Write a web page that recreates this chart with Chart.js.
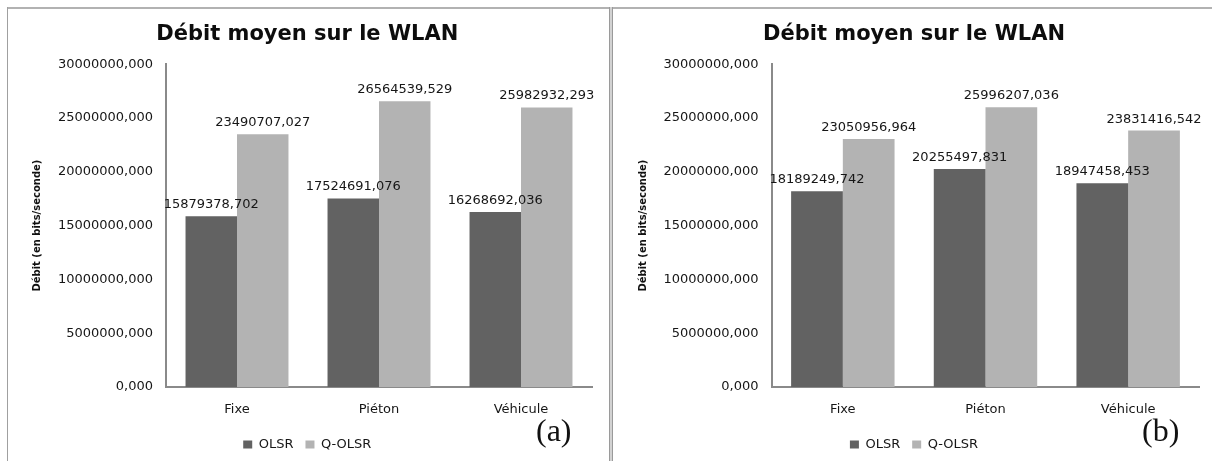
<!DOCTYPE html>
<html>
<head>
<meta charset="utf-8">
<script src="https://cdn.jsdelivr.net/npm/chart.js@4.4.1/dist/chart.umd.min.js"></script>
<style>
  html, body { margin: 0; padding: 0; background: #fff; }
  body { position: relative; width: 1212px; height: 461px; overflow: hidden; }
  canvas { position: absolute; top: 0; }
  .rule { position: absolute; }
</style>
</head>
<body>
<!-- panel frames -->
<div class="rule" style="left:7px;top:7px;width:602px;height:2px;background:#b2b2b2"></div>
<div class="rule" style="left:613px;top:7px;width:599px;height:2px;background:#b2b2b2"></div>
<div class="rule" style="left:7px;top:7px;width:1px;height:454px;background:#a0a0a0"></div>
<div class="rule" style="left:609px;top:7px;width:2px;height:454px;background:#d2d2d2;border-left:1px solid #9a9a9a;border-right:1px solid #9a9a9a"></div>

<canvas id="chartA" width="602" height="461" style="left:7px"></canvas>
<canvas id="chartB" width="599" height="461" style="left:613px"></canvas>

<script>
// Categories and series
const categories = ['Fixe', 'Piéton', 'Véhicule'];
const seriesNames = ['OLSR', 'Q-OLSR'];

// (a) average throughput, bits/s
const olsrA  = [15879378.702, 17524691.076, 16268692.036];
const qolsrA = [23490707.027, 26564539.529, 25982932.293];

// (b) average throughput, bits/s
const olsrB  = [18189249.742, 20255497.831, 18947458.453];
const qolsrB = [23050956.964, 25996207.036, 23831416.542];

// Value axis
const yMin = 0;
const yMax = 30000000;
const yStep = 5000000;

const chartTitle = 'Débit moyen sur le WLAN';
const yAxisTitle = 'Débit (en bits/seconde)';
const panelTags = ['(a)', '(b)'];

const seriesColors = ['#626262', '#b3b3b3'];
const inkColor = '#161616';
const axisColor = '#8a8a8a';

// French-style number: comma decimal separator, three decimals
const fmt = v => Number(v).toFixed(3).replace('.', ',');

Chart.defaults.font.family = "'DejaVu Sans', 'Verdana', sans-serif";
Chart.defaults.color = inkColor;

// Writes each bar's value above it
const valueLabels = {
  id: 'valueLabels',
  afterDatasetsDraw(chart) {
    const ctx = chart.ctx;
    ctx.save();
    ctx.font = "13px 'DejaVu Sans'";
    ctx.fillStyle = inkColor;
    ctx.textAlign = 'center';
    ctx.textBaseline = 'alphabetic';
    chart.data.datasets.forEach((ds, i) => {
      chart.getDatasetMeta(i).data.forEach((bar, j) => {
        ctx.fillText(fmt(ds.data[j]), bar.x, bar.y - 8);
      });
    });
    ctx.restore();
  }
};

// Serif panel tag in the lower right corner
const panelTag = {
  id: 'panelTag',
  afterDraw(chart, args, opts) {
    const ctx = chart.ctx;
    ctx.save();
    ctx.font = "32px 'Liberation Serif', 'DejaVu Serif', serif";
    ctx.fillStyle = '#111';
    ctx.textAlign = 'left';
    ctx.textBaseline = 'alphabetic';
    ctx.fillText(opts.text, opts.x, opts.y);
    ctx.restore();
  }
};

function buildChart(id, olsr, qolsr, tag, lay) {
  return new Chart(document.getElementById(id), {
    type: 'bar',
    data: {
      labels: categories,
      datasets: [
        { label: seriesNames[0], data: olsr, backgroundColor: seriesColors[0], borderWidth: 0 },
        { label: seriesNames[1], data: qolsr, backgroundColor: seriesColors[1], borderWidth: 0 }
      ]
    },
    options: {
      responsive: false,
      animation: false,
      devicePixelRatio: 1,
      datasets: { bar: { categoryPercentage: 0.725, barPercentage: 1.0 } },
      layout: { padding: { left: lay.padL, right: lay.padR, top: 0, bottom: 0 } },
      scales: {
        x: {
          grid: { display: false, drawTicks: false },
          border: { display: true, color: axisColor, width: 2 },
          ticks: { color: inkColor, font: { size: 13 }, padding: 15 },
          afterFit: s => { s.height = 39; }
        },
        y: {
          min: yMin,
          max: yMax,
          grid: { display: false, drawTicks: false },
          border: { display: true, color: axisColor, width: 2 },
          ticks: { stepSize: yStep, color: inkColor, font: { size: 13 }, padding: 13, callback: v => fmt(v) },
          title: {
            display: true, text: yAxisTitle, color: '#111',
            font: { size: 10, weight: 'bold' }, padding: { top: 9, bottom: 0 }
          },
          afterFit: s => { s.width = lay.yWidth; }
        }
      },
      plugins: {
        title: {
          display: true, text: chartTitle, color: '#0d0d0d',
          font: { size: 21, weight: 'bold' }, padding: { top: 22, bottom: 17 }
        },
        legend: {
          position: 'bottom',
          labels: { boxWidth: 9, boxHeight: 8, padding: 12, color: inkColor, font: { size: 13 } }
        },
        tooltip: { enabled: false },
        panelTag: { text: tag, x: 529, y: 441 }
      }
    },
    plugins: [valueLabels, panelTag]
  });
}

buildChart('chartA', olsrA, qolsrA, panelTags[0], { padL: 15.6, padR: 17, yWidth: 143.4 });
buildChart('chartB', olsrB, qolsrB, panelTags[1], { padL: 15.5, padR: 12.5, yWidth: 143 });
</script>
</body>
</html>
